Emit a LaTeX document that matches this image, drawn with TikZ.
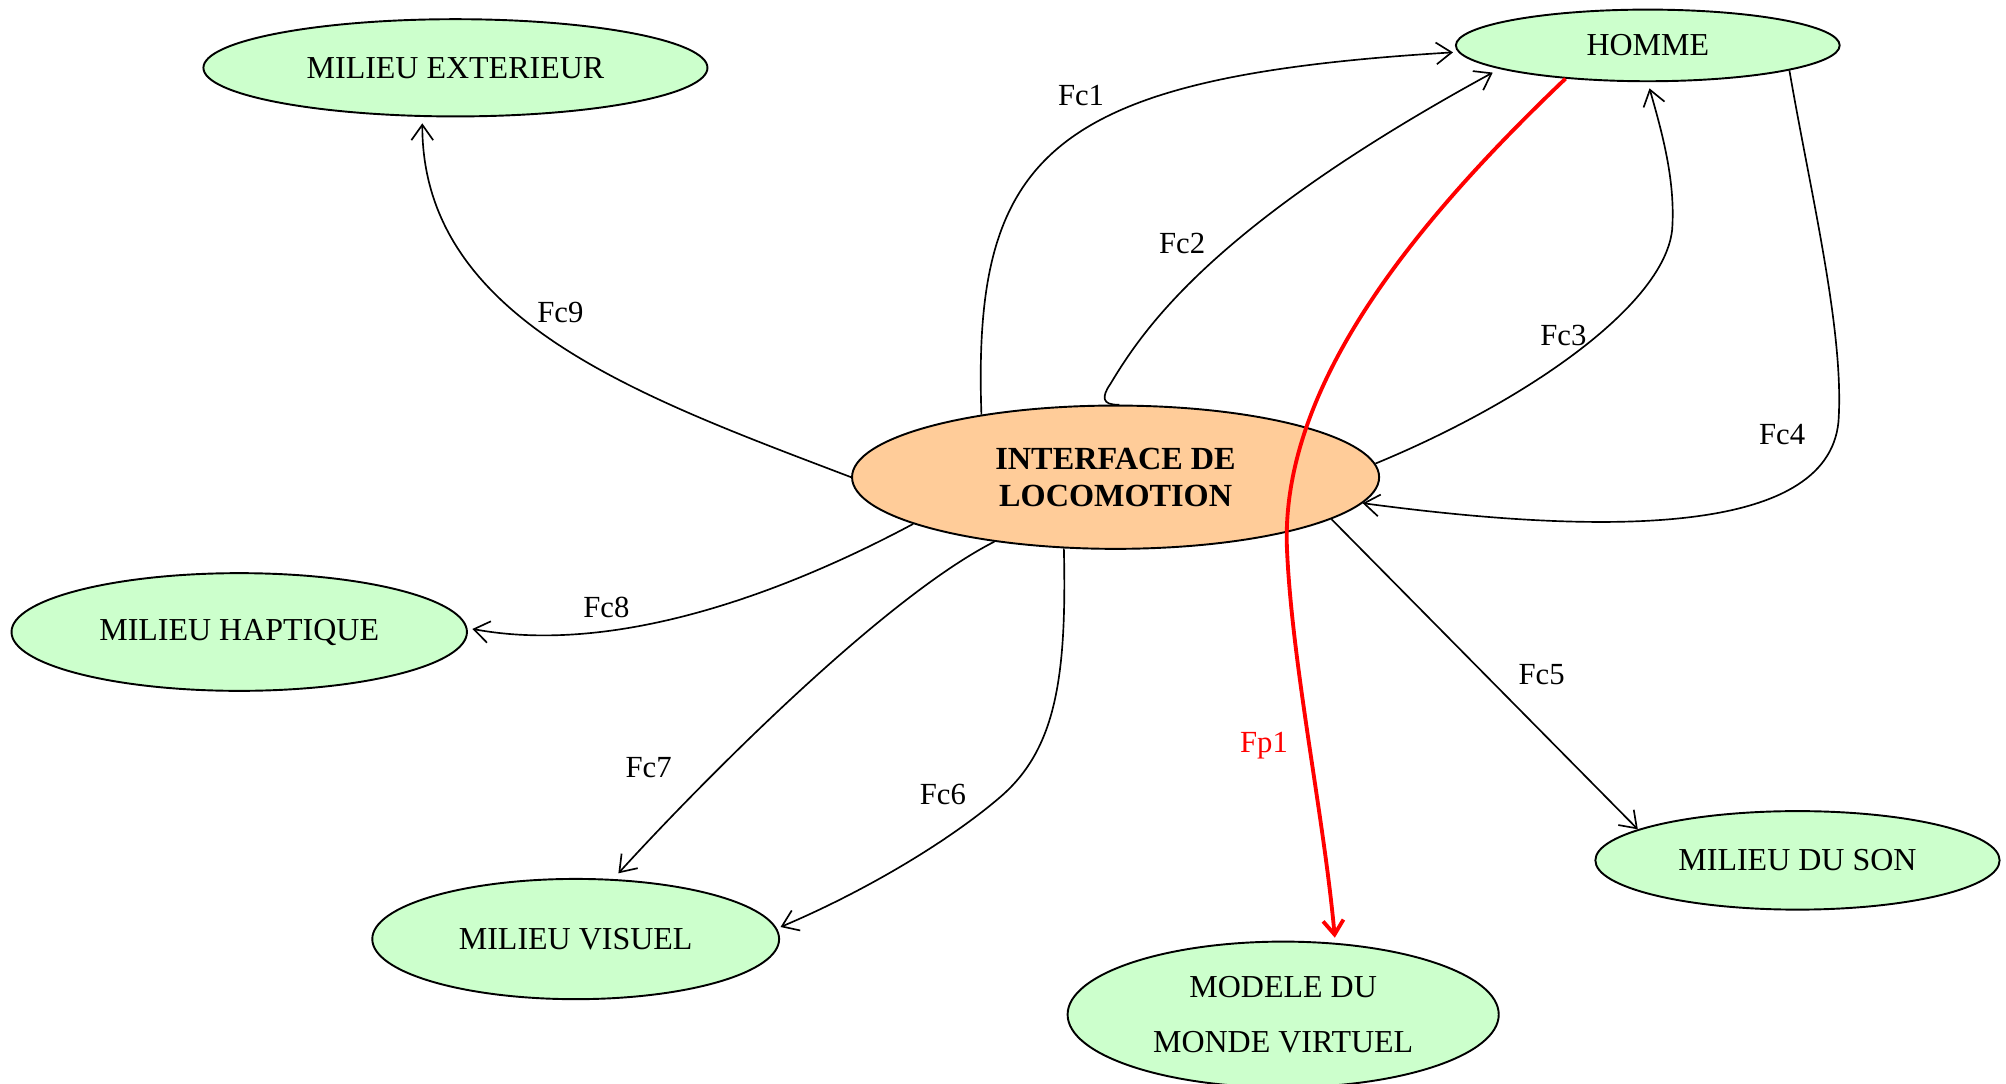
\documentclass[tikz,border=0pt]{standalone}
\usepackage{fontspec}
\setmainfont{Liberation Serif}
\usetikzlibrary{shapes.geometric,arrows.meta}
\definecolor{vertclair}{HTML}{CCFFCC}
\definecolor{orangeclair}{HTML}{FFCC99}
\begin{document}
\begin{tikzpicture}[x=0.5pt,y=-0.5pt,
  blob/.style={ellipse,draw=black,line width=0.75pt,fill=vertclair,inner sep=0pt,align=center,
    font=\fontsize{12.5}{14.5}\selectfont},
  link/.style={line width=0.65pt,-{Straight Barb[length=6pt,width=8.5pt]}},
  redlink/.style={line width=1.5pt,red,-{Straight Barb[length=5.5pt,width=8pt]}},
  lab/.style={font=\fontsize{12}{14}\selectfont,inner sep=0pt}
]
\useasboundingbox (0,0) rectangle (1568,847);

% nodes
\node[blob,minimum width=197pt,minimum height=38pt] (ext) at (356,53) {MILIEU EXTERIEUR};
\node[blob,minimum width=150pt,minimum height=28pt] (homme) at (1288,35.5) {HOMME};
\node[blob,fill=orangeclair,minimum width=206pt,minimum height=56pt,
  font=\fontsize{12.6}{14.5}\selectfont\bfseries] (inter) at (872,373) {INTERFACE DE\\LOCOMOTION};
\node[blob,minimum width=178pt,minimum height=46pt] (hapt) at (187,494) {MILIEU HAPTIQUE};
\node[blob,minimum width=159pt,minimum height=47pt] (vis) at (450,734) {MILIEU VISUEL};
\node[blob,minimum width=168.5pt,minimum height=57pt,
  font=\fontsize{12.5}{21.5}\selectfont] (mod) at (1003,793) {MODELE DU\\MONDE VIRTUEL};
\node[blob,minimum width=158pt,minimum height=38.5pt] (son) at (1405,672.5) {MILIEU DU SON};

% labels
\node[lab] (l1) at (845,75) {Fc1};
\node[lab] (l2) at (924,190) {Fc2};
\node[lab] (l3) at (1222,262) {Fc3};
\node[lab] (l4) at (1393,340) {Fc4};
\node[lab] (l5) at (1205,527) {Fc5};
\node[lab] (l6) at (737,621) {Fc6};
\node[lab] (l7) at (507,600) {Fc7};
\node[lab] (l8) at (474,475) {Fc8};
\node[lab] (l9) at (438,244) {Fc9};
\node[lab,red] (lp1) at (988,583) {Fp1};

% connectors
\draw[link,shorten >=2pt] (inter.155) .. controls (760,120) and (820,60) .. (homme.182);
\draw[link,shorten >=3pt] (inter.87) .. controls (861,317) and (861,310) .. (868,300)
  .. controls (895,255) and (950,175) .. (homme.189);
\draw[link,shorten >=2.5pt] (inter.3) .. controls (1190,315) and (1300,240) .. (1307,180)
  .. controls (1310,140) and (1298,100) .. (homme.270);
\draw[link] (homme.-10) .. controls (1415,150) and (1442,260) .. (1437,330)
  .. controls (1428,420) and (1250,418) .. (inter.-6);
\draw[link] (inter.-11.4) -- (son.169);
\draw[link,shorten >=1.5pt] (inter.234) .. controls (834,530) and (825,585) .. (783,622)
  .. controls (745,655) and (680,695) .. (vis.3);
\draw[link,shorten >=3pt] (inter.208.5) .. controls (684,471) and (532,629) .. (vis.58);
\draw[link,shorten >=2pt] (inter.193) .. controls (610,465) and (480,512) .. (hapt.1);
\draw[link,shorten >=2.5pt] (inter.180) .. controls (500,310) and (330,250) .. (ext.236);
\draw[redlink,shorten >=2pt] (homme.202) .. controls (1110,170) and (1000,300) .. (1006,430)
  .. controls (1010,520) and (1035,640) .. (mod.54);
\end{tikzpicture}
\end{document}
